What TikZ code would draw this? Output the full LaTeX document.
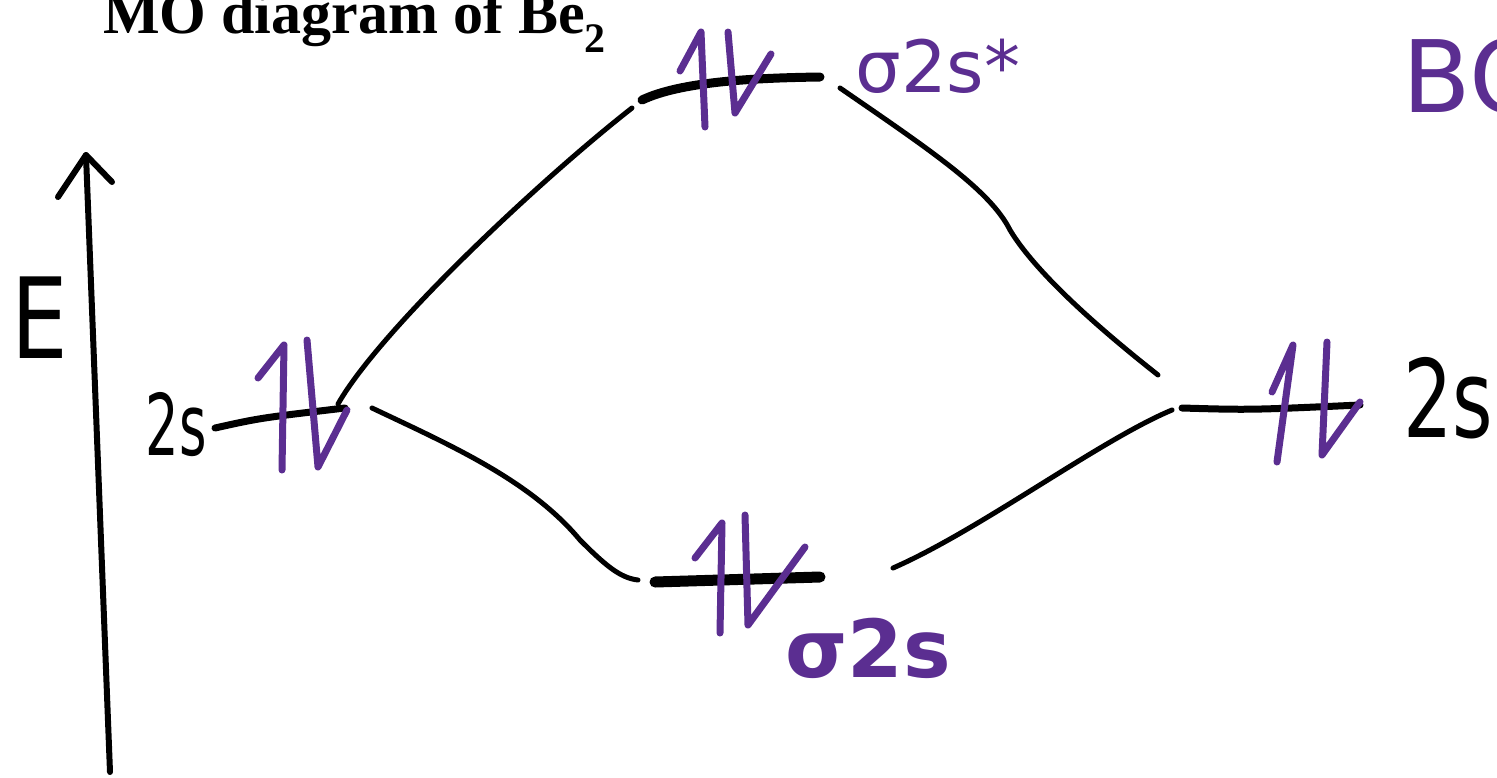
\documentclass[tikz,border=0pt]{standalone}
\usepackage{fontspec}
\setmainfont{Liberation Serif}
\newfontfamily\hand{DejaVu Sans}
\definecolor{mopurple}{RGB}{91,46,145}
\begin{document}
\begin{tikzpicture}[x=1pt,y=-1pt,
  level/.style={line width=9pt,line cap=round},
  conn/.style={line width=5pt,line cap=round},
  axisline/.style={line width=6pt,line cap=round,line join=round},
  elec/.style={mopurple,line width=7pt,line cap=round,line join=round},
  plab/.style={mopurple,inner sep=0pt,font=\hand\fontsize{72}{72}\selectfont},
  blab/.style={black,inner sep=0pt,font=\hand\fontsize{85}{85}\selectfont},
]
\useasboundingbox (0,0) rectangle (1497,777);

% title
\node[anchor=base west,inner sep=0pt] (title) at (103,33)
  {\bfseries\fontsize{60}{60}\selectfont MO diagram of Be\textsubscript{2}};
\node[plab,anchor=west,font=\hand\fontsize{100}{100}\selectfont] (bo) at (1402,76) {BO};

% energy axis
\coordinate (axb) at (110,772);
\coordinate (axt) at (86,155);
\coordinate (axl) at (58,197);
\coordinate (axr) at (112,182);
\draw[axisline] (axb) -- (axt);
\draw[axisline] (axl) -- (axt) -- (axr);
\node[blab,xscale=0.8,font=\hand\fontsize{112}{112}\selectfont] (E) at (40,318) {E};

% levels
\coordinate (L1) at (215,428); \coordinate (L2) at (345,408);
\coordinate (R1) at (1182,408); \coordinate (R2) at (1360,405);
\coordinate (S1) at (642,100); \coordinate (S2) at (820,77);
\coordinate (B1) at (655,582); \coordinate (B2) at (820,577);
\draw[level,line width=7pt] (L1) .. controls (260,418) .. (L2);
\draw[level,line width=7pt] (R1) .. controls (1250,410) .. (R2);
\draw[level] (S1) .. controls (680,82) and (750,78) .. (S2);
\draw[level,line width=11pt] (B1) -- (B2);

% level labels
\node[blab,xscale=0.62] (l2s) at (176,425) {2s};
\node[blab,xscale=0.72,font=\hand\fontsize{108}{108}\selectfont] (r2s) at (1448,398) {2s};
\node[plab] (sstar) at (938,66) {σ2s*};
\node[plab,font=\hand\bfseries\fontsize{80}{80}\selectfont] (sig) at (868,648) {σ2s};

% connectors
\coordinate (cLu) at (338,404); \coordinate (cSl) at (632,108);
\coordinate (cSr) at (840,88);  \coordinate (cRu) at (1158,375);
\coordinate (cLd) at (372,408); \coordinate (cBl) at (638,580);
\coordinate (cBr) at (893,568); \coordinate (cRd) at (1172,410);
\draw[conn] (cLu) .. controls (380,330) and (540,180) .. (cSl);
\draw[conn] (cSr) .. controls (930,150) and (990,190) .. (1010,230)
              .. controls (1040,280) and (1120,345) .. (cRu);
\draw[conn] (cLd) .. controls (450,445) and (530,480) .. (580,540)
              .. controls (605,565) and (620,578) .. (cBl);
\draw[conn] (cBr) .. controls (980,530) and (1100,440) .. (cRd);

% electrons
\draw[elec] (282,470) -- (284,345) -- (258,378);
\draw[elec] (307,340) -- (318,467) -- (347,410);
\draw[elec] (1277,462) -- (1293,345) -- (1272,392);
\draw[elec] (1327,342) -- (1322,455) -- (1360,402);
\draw[elec] (705,127) -- (701,32) -- (680,71);
\draw[elec] (728,32) -- (735,113) -- (771,54);
\draw[elec] (720,633) -- (722,523) -- (695,558);
\draw[elec] (745,515) -- (748,625) -- (805,547);
\end{tikzpicture}
\end{document}
